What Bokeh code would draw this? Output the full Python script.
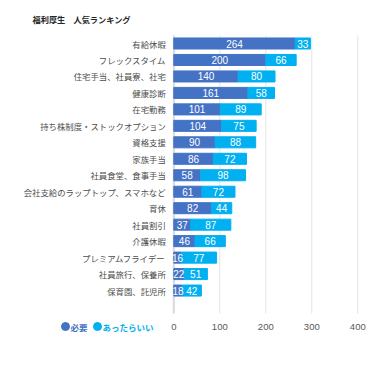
from bokeh.plotting import figure
from bokeh.models import ColumnDataSource, Range1d
from bokeh.core.properties import value
from bokeh.embed import file_html
from bokeh.resources import INLINE

categories = ["有給休暇", "フレックスタイム", "住宅手当、社員寮、社宅", "健康診断", "在宅勤務",
              "持ち株制度・ストックオプション", "資格支援", "家族手当", "社員食堂、食事手当",
              "会社支給のラップトップ、スマホなど", "育休", "社員割引", "介護休暇",
              "プレミアムフライデー", "社員旅行、保養所", "保育園、託児所"]
hitsuyou = [264, 200, 140, 161, 101, 104, 90, 86, 58, 61, 82, 37, 46, 16, 22, 18]
attara = [33, 66, 80, 58, 89, 75, 88, 72, 98, 72, 44, 87, 66, 77, 51, 42]
series_names = ["必要", "あったらいい"]
x_ticks = [0, 100, 200, 300, 400]
title_text = "福利厚生　人気ランキング"

C1 = "#4472C4"
C2 = "#00B0F0"
FONT = "Noto Sans CJK JP"
NUMFONT = "Liberation Sans"

W, H = 368, 353
# layout of the plotting area in canvas pixels
X0_PX, PX_PER_UNIT = 173.3, 0.46
ROW0_PX, ROW_PX = 43.0, 16.47
XS = -X0_PX / PX_PER_UNIT
XE = XS + W / PX_PER_UNIT
YT = -ROW0_PX / ROW_PX
YB = YT + H / ROW_PX


def px2x(px):
    return XS + px / PX_PER_UNIT


def px2y(py):
    return YT + py / ROW_PX


n = len(categories)
ypos = list(range(n))
grid_top = -0.486
grid_bottom = n - 1 + 1.40

src = ColumnDataSource(dict(
    y=ypos, cat=categories,
    a_end=hitsuyou,
    b_end=[h + a for h, a in zip(hitsuyou, attara)],
    a_mid=[h / 2 for h in hitsuyou],
    b_mid=[h + a / 2 for h, a in zip(hitsuyou, attara)],
    a_txt=[str(v) for v in hitsuyou],
    b_txt=[str(v) for v in attara],
))

p = figure(width=W, height=H, output_backend="svg", toolbar_location=None,
           x_range=Range1d(XS, XE), y_range=Range1d(YB, YT),
           min_border=0, min_border_left=0, min_border_right=0,
           min_border_top=0, min_border_bottom=0)
p.outline_line_color = None
p.axis.visible = False
p.grid.visible = False

# gridlines
p.segment(x0=x_ticks[1:], x1=x_ticks[1:], y0=grid_top, y1=grid_bottom,
          line_color="#E3E3E3", line_width=1)
p.segment(x0=x_ticks[:1], x1=x_ticks[:1], y0=grid_top, y1=grid_bottom,
          line_color="#D9D9D9", line_width=2)

# bars
p.hbar(y="y", left=0, right="a_end", height=0.67, color=C1, source=src)
p.hbar(y="y", left="a_end", right="b_end", height=0.67, color=C2, source=src)

for xcol, tcol in [("a_mid", "a_txt"), ("b_mid", "b_txt")]:
    p.text(x=xcol, y="y", text=tcol, source=src, text_color="white",
           text_font=value(NUMFONT), text_font_size="10px",
           text_align="center", text_baseline="middle")

# category labels
p.text(x=0, y="y", text="cat", source=src, x_offset=-8, text_align="right",
       text_baseline="middle", text_font=value(FONT), text_font_size="8.4px",
       text_color="#4D4D4D")

# x tick labels
p.text(x=x_ticks, y=[grid_bottom] * len(x_ticks), text=[str(t) for t in x_ticks],
       y_offset=13, text_align="center", text_baseline="middle",
       text_font=value(NUMFONT), text_font_size="9.5px", text_color="#595959")

# title
p.text(x=[px2x(32)], y=[px2y(18)], text=[title_text], text_align="left",
       text_baseline="middle", text_font=value(FONT), text_font_size="8.2px",
       text_font_style="bold", text_color="#262626")

# legend
leg_y = px2y(326)
for name, col, cx in [(series_names[0], C1, 65), (series_names[1], C2, 97)]:
    p.scatter(x=[px2x(cx)], y=[leg_y], marker="circle", size=8, color=col)
    p.text(x=[px2x(cx + 5)], y=[leg_y], text=[name], text_align="left",
           text_baseline="middle", text_font=value(FONT), text_font_size="8.5px",
           text_font_style="bold", text_color=col)

open("out.html", "w").write(file_html(p, INLINE))
